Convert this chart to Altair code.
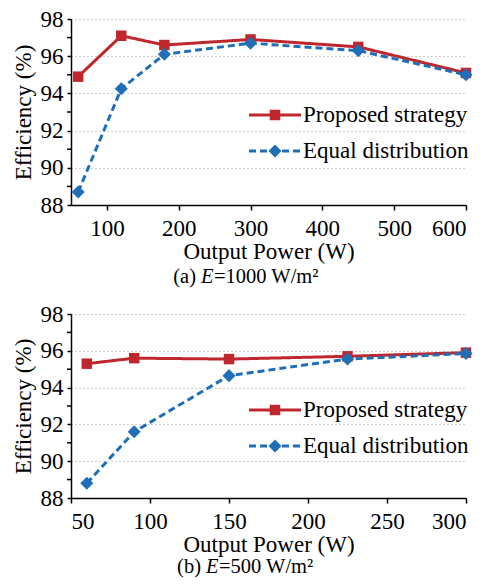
import altair as alt
import pandas as pd

SERIES = ["Proposed strategy", "Equal distribution"]
COLORS = ["#C0272D", "#1F6EB8"]

# Panel (a): E = 1000 W/m^2
power_a = [60, 120, 180, 300, 450, 600]
proposed_a = [94.9, 97.1, 96.6, 96.9, 96.5, 95.1]
equal_a = [88.7, 94.25, 96.1, 96.7, 96.3, 95.0]
xticks_a = [100, 200, 300, 400, 500, 600]

# Panel (b): E = 500 W/m^2
power_b = [60, 90, 150, 225, 300]
proposed_b = [95.3, 95.6, 95.55, 95.7, 95.9]
equal_b = [88.8, 91.6, 94.65, 95.55, 95.85]
xticks_b = [50, 100, 150, 200, 250, 300]

ymajor = [88, 90, 92, 94, 96, 98]
yminor = [89, 91, 93, 95, 97]

FONT = "Liberation Serif"
W = 395
FS = 23
CFS = 20.5


def panel(power, prop, eq, xdomain, xticks, tag, ecap, rest, H, capoff):
    df = pd.DataFrame({
        "power": power + power,
        "eff": prop + eq,
        "series": [SERIES[0]] * len(power) + [SERIES[1]] * len(power),
    })
    xs = alt.Scale(domain=xdomain, nice=False, zero=False)
    ys = alt.Scale(domain=[88, 98], nice=False, zero=False)
    xax = alt.Axis(values=xticks, title="Output Power (W)", grid=False,
                   tickSize=5, labelPadding=7, titlePadding=0, labelOverlap=False)
    yax = alt.Axis(values=ymajor, title="Efficiency (%)", grid=True,
                   gridDash=[1, 3], gridColor="#9a9a9a", gridWidth=1,
                   labelOverlap=False, tickSize=4, labelPadding=4, titlePadding=5)
    x = alt.X("power:Q", scale=xs, axis=xax)
    y = alt.Y("eff:Q", scale=ys, axis=yax)
    color = alt.Color("series:N", scale=alt.Scale(domain=SERIES, range=COLORS), legend=None)
    base = alt.Chart(df)
    lines = base.mark_line(strokeWidth=3).encode(
        x=x, y=y, color=color,
        strokeDash=alt.StrokeDash("series:N", scale=alt.Scale(domain=SERIES, range=[[1, 0], [7, 4]]), legend=None),
    )
    pts = base.mark_point(filled=True, opacity=1).encode(
        x=x, y=y, color=color,
        shape=alt.Shape("series:N", scale=alt.Scale(domain=SERIES, range=["square", "diamond"]), legend=None),
        size=alt.Size("series:N", scale=alt.Scale(domain=SERIES, range=[110, 170]), legend=None),
    )
    minor = alt.Chart(pd.DataFrame({"eff": yminor})).mark_rule(
        color="black", strokeWidth=1.5).encode(
        y=y, x=alt.value(-4), x2=alt.value(0))
    one = pd.DataFrame({"k": [0]})
    layers = [lines, pts, minor]
    # legend
    for i, (name, col) in enumerate(zip(SERIES, COLORS)):
        ly = 96 + 36 * i
        dash = [1, 0] if i == 0 else [7, 4]
        layers.append(alt.Chart(one).mark_rule(color=col, strokeWidth=3, strokeDash=dash).encode(
            x=alt.value(178), x2=alt.value(230), y=alt.value(ly)))
        layers.append(alt.Chart(one).mark_point(filled=True, opacity=1, color=col,
                                                shape="square" if i == 0 else "diamond",
                                                size=110 if i == 0 else 170).encode(
            x=alt.value(204), y=alt.value(ly)))
        layers.append(alt.Chart(one).mark_text(text=name, align="left", baseline="middle",
                                               font=FONT, fontSize=FS, color="black").encode(
            x=alt.value(232), y=alt.value(ly)))
    # caption
    cy = H + capoff
    layers.append(alt.Chart(one).mark_text(text=tag, align="right", baseline="middle",
                                           font=FONT, fontSize=CFS, color="black").encode(
        x=alt.value(ecap - 5), y=alt.value(cy)))
    layers.append(alt.Chart(one).mark_text(text="E", align="left", baseline="middle",
                                           font=FONT, fontSize=CFS, fontStyle="italic", color="black").encode(
        x=alt.value(ecap), y=alt.value(cy)))
    layers.append(alt.Chart(one).mark_text(text=rest, align="left", baseline="middle",
                                           font=FONT, fontSize=CFS, color="black").encode(
        x=alt.value(ecap + 13), y=alt.value(cy)))
    return alt.layer(*layers).properties(width=W, height=H)


pa = panel(power_a, proposed_a, equal_a, [50, 600], xticks_a, "(a)", 130, "=1000 W/m²", 186, 72)
pb = panel(power_b, proposed_b, equal_b, [50, 300], xticks_b, "(b)", 135, "=500 W/m²", 184, 69)

chart = alt.vconcat(pa, pb, spacing=15).configure_view(stroke=None).configure_axis(
    labelFont=FONT, titleFont=FONT, labelFontSize=FS, titleFontSize=FS,
    labelColor="black", titleColor="black", titleFontWeight="normal",
    domainColor="black", tickColor="black", domainWidth=1.5, tickWidth=1.5,
).properties(padding={"left": 4, "top": 0, "right": 0, "bottom": 0})

chart.save("out.html", embed_options={"renderer": "svg", "actions": False})
